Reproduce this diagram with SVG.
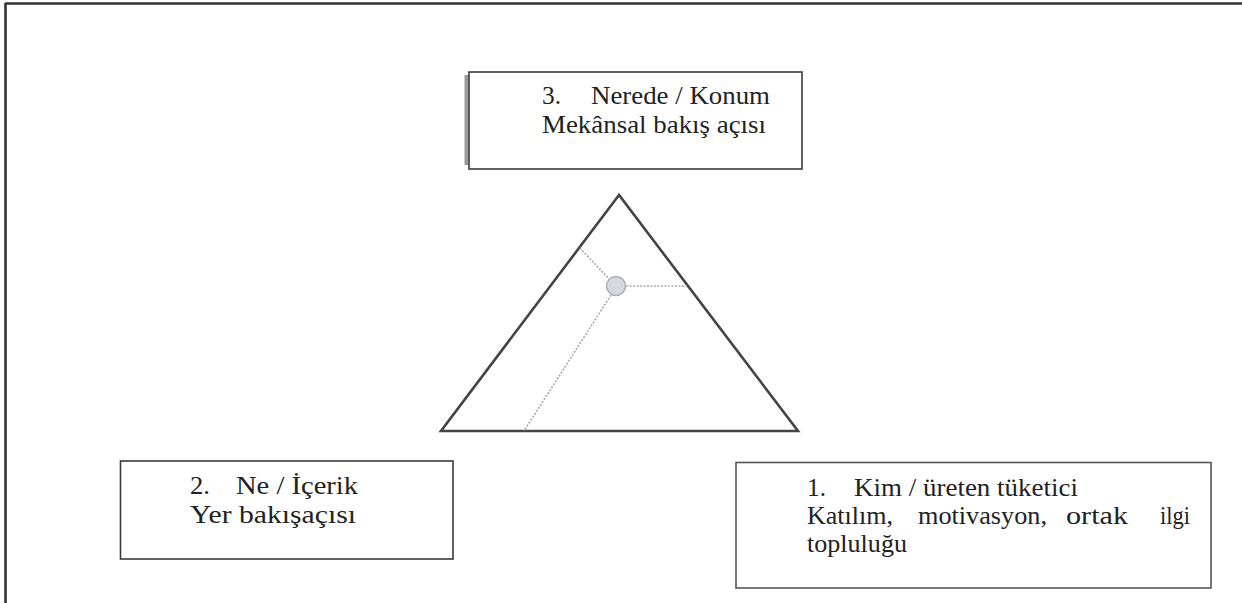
<svg xmlns="http://www.w3.org/2000/svg" width="1242" height="603" viewBox="0 0 1242 603">
<style>
.box{fill:#fff;stroke:#3a3a3a;stroke-width:1.6}
.t{font-family:"Liberation Serif","Times New Roman",serif;font-size:26px;fill:#222}
.tri{fill:none;stroke:#444;stroke-width:2.6;stroke-linejoin:miter}
.dash{fill:none;stroke:#a8a8a8;stroke-width:1.6;stroke-dasharray:2 1.5}
.frame{stroke:#333;stroke-width:2.6;fill:none}
</style>
<rect width="1242" height="603" fill="#fff"/>
<g id="frame">
<line class="frame" x1="5" y1="3.5" x2="1242" y2="3.5"/>
<line class="frame" x1="5.5" y1="3" x2="5.5" y2="603"/>
</g>
<g id="node-nerede">
<rect x="464.5" y="75" width="4" height="90" fill="#9a9a9a"/>
<rect class="box" x="469" y="72" width="333" height="97"/>
<text class="t" x="542" y="104" textLength="19" lengthAdjust="spacingAndGlyphs">3.</text>
<text class="t" x="591" y="104" textLength="179" lengthAdjust="spacingAndGlyphs">Nerede / Konum</text>
<text class="t" x="542" y="133" textLength="224" lengthAdjust="spacingAndGlyphs">Mekânsal bakış açısı</text>
</g>
<g id="node-triangle">
<polygon class="tri" points="619,195 441,431 798,431"/>
</g>
<g id="connectors">
<line class="dash" x1="580" y1="248" x2="609" y2="279"/>
<line class="dash" x1="626" y1="286" x2="687" y2="286"/>
<line class="dash" x1="611" y1="295" x2="524" y2="431"/>
</g>
<g id="node-center">
<circle cx="616" cy="286" r="9.5" fill="#d3d9df" stroke="#a9b0b6" stroke-width="1.5"/>
</g>
<g id="node-ne">
<rect class="box" x="120.5" y="461" width="332.5" height="98"/>
<text class="t" x="190" y="494" textLength="20" lengthAdjust="spacingAndGlyphs">2.</text>
<text class="t" x="236" y="494" textLength="122" lengthAdjust="spacingAndGlyphs">Ne / İçerik</text>
<text class="t" x="190" y="523" textLength="166" lengthAdjust="spacingAndGlyphs">Yer bakışaçısı</text>
</g>
<g id="node-kim">
<rect class="box" x="736" y="462.5" width="475" height="125.5" style="stroke:#555"/>
<text class="t" x="807" y="496" textLength="19" lengthAdjust="spacingAndGlyphs">1.</text>
<text class="t" x="854" y="496" textLength="224" lengthAdjust="spacingAndGlyphs">Kim / üreten tüketici</text>
<text class="t" y="524"><tspan x="807" textLength="86" lengthAdjust="spacingAndGlyphs">Katılım,</tspan> <tspan x="918" textLength="129" lengthAdjust="spacingAndGlyphs">motivasyon,</tspan> <tspan x="1066" textLength="62" lengthAdjust="spacingAndGlyphs">ortak</tspan> <tspan x="1160" textLength="30" lengthAdjust="spacingAndGlyphs">ilgi</tspan></text>
<text class="t" x="807" y="552" textLength="100" lengthAdjust="spacingAndGlyphs">topluluğu</text>
</g>
</svg>
